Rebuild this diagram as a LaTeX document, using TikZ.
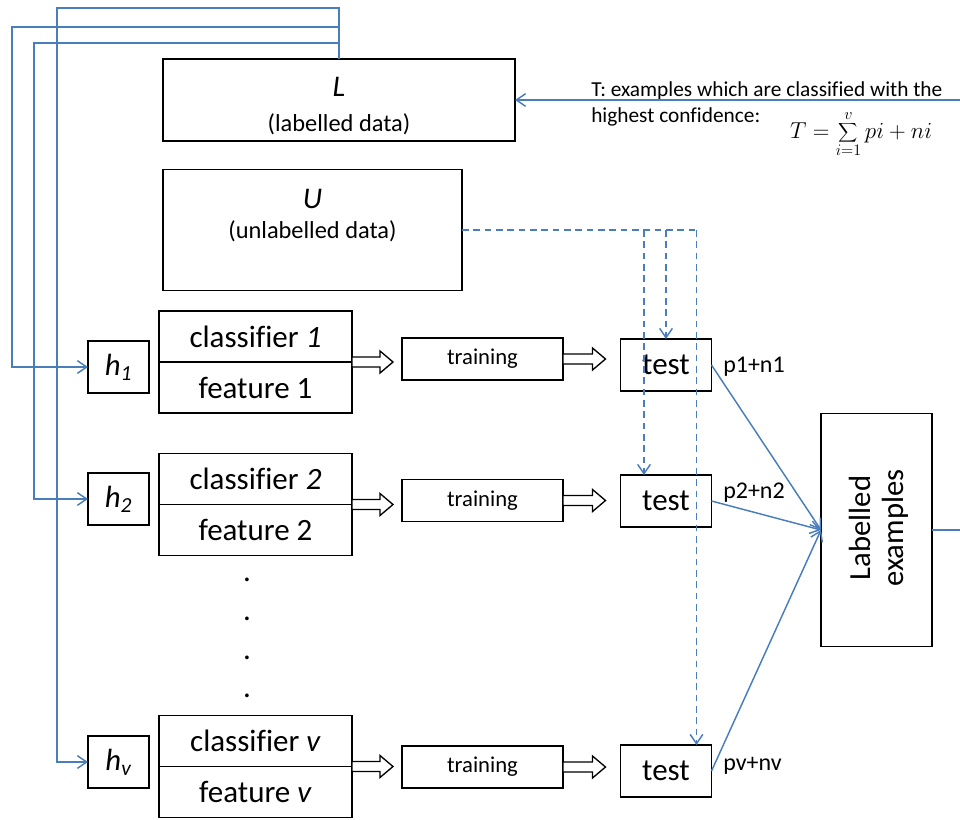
\documentclass[tikz,border=0pt]{standalone}
\usepackage{fontspec}
\setmainfont[Ligatures={NoCommon}]{Carlito}
\usetikzlibrary{arrows.meta,calc}
\definecolor{fbblue}{HTML}{4A7EBB}
\newcommand\fatarrow[2]{\draw[fatarr] let \p1=(#1), \p2=(#2) in
  (\x1,\y1+3.75pt) -- (\x2-9.75pt,\y1+3.75pt) -- (\x2-9.75pt,\y1+8.25pt) -- (\x2,\y1)
  -- (\x2-9.75pt,\y1-8.25pt) -- (\x2-9.75pt,\y1-3.75pt) -- (\x1,\y1-3.75pt) -- cycle;}
\begin{document}
\begin{tikzpicture}[x=0.75pt,y=-0.75pt,
  box/.style={draw=black, line width=1.1pt, inner sep=0pt, outer sep=0pt},
  hbox/.style={box, minimum width=45.75pt, minimum height=39pt, font=\fontsize{23}{27}\selectfont\itshape},
  clsbox/.style={box, minimum width=144.75pt, minimum height=38.25pt, font=\fontsize{23.25}{27}\selectfont},
  trbox/.style={box, minimum width=120.75pt, minimum height=31.5pt, font=\fontsize{17}{20}\selectfont},
  tebox/.style={box, minimum width=68.25pt, minimum height=39pt, font=\fontsize{23.25}{27}\selectfont},
  fatarr/.style={draw=black, line width=1pt, fill=white},
  fb/.style={draw=fbblue, line width=1.1pt},
  fbd/.style={fb, dash pattern=on 5pt off 3.5pt},
  tip/.style={-{Straight Barb[length=7pt,width=9.5pt]}},
  txt/.style={inner sep=0pt},
  plab/.style={txt, anchor=base west, font=\fontsize{18}{21}\selectfont},
  dotlab/.style={txt, anchor=base, font=\fontsize{23.25}{27}\selectfont}]
\useasboundingbox (0,0) rectangle (960,819);

% L and U boxes
\node[box, minimum width=264pt, minimum height=61.5pt] (L) at (339,100) {};
\node[txt, font=\fontsize{22.5}{27}\selectfont\itshape] (Lt) at (339,87) {L};
\node[txt, font=\fontsize{18.3}{22}\selectfont] (Ld) at (339,124) {(labelled data)};
\node[box, minimum width=224.25pt, minimum height=90.75pt] (U) at (312.5,230) {};
\node[txt, font=\fontsize{22.5}{27}\selectfont\itshape] (Ut) at (312.5,199) {U};
\node[txt, font=\fontsize{18.3}{22}\selectfont] (Ud) at (312.5,231) {(unlabelled data)};

% row 1
\node[hbox] (h1) at (118.5,367) {h\textsubscript{1}};
\node[clsbox] (c1a) at (255.5,336.5) {classifier \textit{1}};
\node[clsbox] (c1b) at (255.5,387.5) {feature 1};
\node[trbox] (tr1) at (482.5,359) {training};
\node[tebox] (te1) at (666,365) {test};
% row 2
\node[hbox] (h2) at (118.5,499) {h\textsubscript{2}};
\node[clsbox] (c2a) at (255.5,479) {classifier \textit{2}};
\node[clsbox] (c2b) at (255.5,530) {feature 2};
\node[trbox] (tr2) at (482.5,500.5) {training};
\node[tebox] (te2) at (666,501) {test};
% row v
\node[hbox] (hv) at (118.5,762) {h\textsubscript{v}};
\node[clsbox] (cva) at (255.5,741) {classifier \textit{v}};
\node[clsbox] (cvb) at (255.5,792) {feature \textit{v}};
\node[trbox] (trv) at (482.5,767) {training};
\node[tebox] (tev) at (666,771) {test};

% dots
\node[dotlab] (d1) at (247,581) {.};
\node[dotlab] (d2) at (247,620) {.};
\node[dotlab] (d3) at (247,659) {.};
\node[dotlab] (d4) at (247,697) {.};

% hollow arrows
\fatarrow{c1a.south east}{$(tr1.west)+(-9,0)$}
\fatarrow{c2a.south east}{$(tr2.west)+(-9,0)$}
\fatarrow{cva.south east}{$(trv.west)+(-9,0)$}
\fatarrow{tr1.east}{$(te1.west)+(-15,0)$}
\fatarrow{tr2.east}{$(te2.west)+(-15,0)$}
\fatarrow{trv.east}{$(tev.west)+(-15,0)$}

% labelled examples
\node[box, minimum width=83.25pt, minimum height=174.75pt] (lab) at (876.5,530) {};
\node[txt, rotate=90, align=center, font=\fontsize{23}{24.75}\selectfont] (labt) at (879,528) {Labelled\\examples};

% p labels
\node[plab] (p1) at (723,372) {p1+n1};
\node[plab] (p2) at (723,498) {p2+n2};
\node[plab] (pv) at (723,770) {pv+nv};

% T text and formula
\node[txt, anchor=base west, font=\fontsize{16}{19}\selectfont] (tl1) at (591,96) {T: examples which are classified with the};
\node[txt, anchor=base west, font=\fontsize{16}{19}\selectfont] (tl2) at (591,122) {highest confidence:};
\node[txt] (form) at (861,134) {\fontsize{16.5}{19}\selectfont$\displaystyle T=\sum_{i=1}^{v} pi+ni$};

% feedback lines
\draw[fb,tip] (L.north) |- (57,8) |- (hv.west);
\draw[fb,tip] (L.north) |- (12,27) |- (h1.west);
\draw[fb,tip] (L.north) |- (34,43) |- (h2.west);
\draw[fb,tip] (lab.east) -- (965,530) |- (L.east);

% test to labelled
\draw[fb,tip] (te1.east) -- (lab.west);
\draw[fb,tip] (te2.east) -- (lab.west);
\draw[fb,tip] (tev.east) -- (lab.west);

% dashed from U
\coordinate (dend) at ($(tev.north east)+(-15,0)$);
\draw[fbd] (U.east) -- (U.east -| dend);
\draw[fbd,tip] (U.east -| te1.north) -- (te1.north);
\draw[fbd,tip] (U.east -| 644,0) -- (te2.north -| 644,0);
\draw[fbd,tip] (U.east -| dend) -- (dend);
\end{tikzpicture}
\end{document}
